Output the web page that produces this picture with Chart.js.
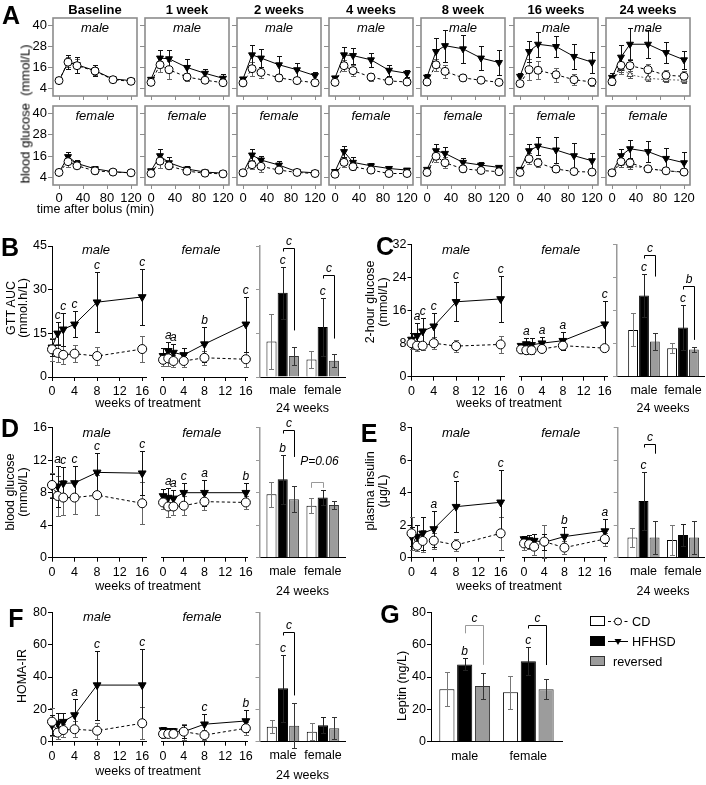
<!DOCTYPE html>
<html><head><meta charset="utf-8">
<script src="https://cdn.jsdelivr.net/npm/chart.js@4.4.1/dist/chart.umd.min.js"></script>
<style>
html,body{margin:0;padding:0;background:#fff;}
body{width:706px;height:785px;position:relative;overflow:hidden;font-family:"Liberation Sans",Arial,Helvetica,sans-serif;}
canvas{position:absolute;}
.t{position:absolute;white-space:pre;line-height:1;color:#000;}
</style></head><body>
<script>
// ================= DATA =================
// Panel A: glucose tolerance curves
const aTitles = ['Baseline','1 week','2 weeks','4 weeks','8 week','16 weeks','24 weeks'];
const aTimes = [0,15,30,60,90,120];
const aXTicks = [0,40,80,120];
const aYTicks = [4,16,28,40];
const aMaleCD = [
 [8.7,19.1,17.1,14.1,9.2,8.3],
 [7.7,17.6,14.8,10.7,8.9,7.5],
 [7.4,15.4,13.3,10.2,8.7,7.5],
 [7.7,17.1,14.3,10.7,8.5,7.9],
 [7.9,17.6,13.9,10.2,8.9,7.7],
 [7.0,14.8,14.5,12.0,9.2,7.9],
 [8.1,17.3,17.1,14.8,11.7,11.1]];
const aMaleCDsd = [
 [1,3,4,2.5,1,1],[1,4,5,2,1.5,1],[1,4,3,1.5,1.5,1.5],[1,3,3,2,1.5,1],
 [1,3.5,3.5,2,1.5,1],[1.5,6,5,4,3,2],[2,5,4,3.5,3,3]];
const aMaleHF = [
 [8.5,19.0,17.6,14.3,9.6,8.7],
 [9.4,21.4,21.0,16.1,12.8,10.0],
 [9.6,23.2,21.4,17.6,14.8,11.5],
 [10.2,23.2,22.8,20.4,14.5,12.8],
 [10.7,25.1,28.4,26.6,21.4,18.9],
 [11.1,25.1,29.2,27.9,22.3,19.1],
 [10.5,21.9,29.2,29.2,24.5,20.4]];
const aMaleHFsd = [
 [1,4,4.5,3,1.5,1],[1,4.5,5,5,2.5,2.5],[1,5.5,5,5,4,2],[1,4.5,4.5,4,3,2],
 [1.5,7.5,9,8,7,7],[2,6,7,6,7,6],[2.5,7,9,8,6,5]];
const aFemaleCD = [
 [7.0,13.0,10.7,7.9,7.2,6.8],
 [6.4,13.3,10.7,7.7,6.6,6.2],
 [6.8,11.3,10.4,8.3,7.0,6.4],
 [6.0,12.6,10.2,8.3,6.4,6.4],
 [7.0,16.0,12.4,9.0,8.1,7.4],
 [7.0,14.6,12.4,8.9,7.5,7.2],
 [6.8,13.0,12.4,9.0,7.9,7.2]];
const aFemaleCDsd = [
 [1,3,1.5,1.5,1,0.8],[1,4,2,1.5,1,1],[1,2.5,3,1.5,1,1],[1,2.5,2,1.5,1,1],
 [1,3,3,2,1.5,1],[1,3,2.5,1.5,1,1],[1,3,2.5,1.5,1,1]];
const aFemaleHF = [
 [7.0,15.8,12.0,9.0,7.4,6.8],
 [7.9,16.3,12.4,8.9,7.2,6.6],
 [6.8,16.7,13.9,11.1,7.4,6.8],
 [7.5,18.6,12.6,10.7,9.2,8.3],
 [8.7,19.1,17.6,12.6,11.1,9.8],
 [8.7,19.1,21.7,19.5,16.3,13.5],
 [6.8,16.3,20.2,18.6,14.8,12.4]];
const aFemaleHFsd = [
 [1,2.5,2,1.5,1,0.8],[1,3.5,3,1.5,1,1],[1,3.5,2.5,2,1,1],[1,3,3,1.5,1,1],
 [1,3.5,3.5,2.5,1.5,1],[1.5,4,5,7,7,4.5],[1,4,5,6,6,6]];
const aMaleRev24 = [7.5,15.8,12.0,10.0,9.2,8.9];
const aMaleRev24sd = [1.5,2.5,2,1.5,1.5,1.5];
const aFemaleRev24 = [6.4,12.0,10.7,9.2,7.9,7.0];
const aFemaleRev24sd = [1,2,2,1.5,1,1];

// Panels B-F: weeks of treatment
const weeks = [0,1,2,4,8,16];
const weekTicks = [0,4,8,12,16];
const sexLabels = ['male','female'];

// B: GTT AUC
const bYTicks = [0,15,30,45];
const bMaleCD = [9.5,8.3,7.6,8.0,7.2,9.6];   const bMaleCDsd = [4,3,3,3,3,4.5];
const bMaleHF = [10.2,15.0,16.4,18.1,25.7,27.5]; const bMaleHFsd = [3,3.9,5.6,4.5,10.3,9.7];
const bFemaleCD = [5.9,6.4,5.5,5.5,6.6,6.1]; const bFemaleCDsd = [2,2.5,2,2,2.5,2.5];
const bFemaleHF = [7.3,9.0,8.4,7.6,11.3,18.1]; const bFemaleHFsd = [2.5,3,3,2.5,6,9.5];
const bMaleSig = ['','c','c','c','c','c'];
const bFemaleSig = ['','a','a','','b','c'];
const bBarCD = [12.2,6.0];  const bBarCDsd = [9.5,3];
const bBarHF = [28.9,17.2]; const bBarHFsd = [9,10];
const bBarRev = [7.2,5.6];  const bBarRevsd = [3.2,2.3];
const bBarSig = ['c','c'];
const bBrText = ['c','c']; const bBrY = [44.3,35.0]; const bBrEnd = [16,13.2];

// C: 2-hour glucose
const cYTicks = [0,8,16,24,32];
const cMaleCD = [8.1,7.5,7.5,8.1,7.4,7.8];  const cMaleCDsd = [1.5,1.2,1,1.5,1.5,2];
const cMaleHF = [9.0,9.9,11.0,12.2,18.1,18.8]; const cMaleHFsd = [1.6,3.1,3.1,3.1,4.7,5.5];
const cFemaleCD = [6.6,6.4,6.4,6.7,7.5,6.9]; const cFemaleCDsd = [0.8,1,1,0.8,0.8,0.8];
const cFemaleHF = [7.5,7.9,7.7,8.1,8.7,12.7]; const cFemaleHFsd = [0.5,1.5,1.6,1.4,2.2,5.6];
const cMaleSig = ['','a','c','c','c','c'];
const cFemaleSig = ['','a','','a','a','c'];
const cBarCD = [11.3,6.85]; const cBarCDsd = [4,1.2];
const cBarHF = [19.6,11.9]; const cBarHFsd = [5.2,5.4];
const cBarRev = [8.5,6.6];  const cBarRevsd = [2.1,0.6];
const cBarSig = ['c','c'];
const cBrText = ['c','b']; const cBrY = [29.4,21.9]; const cBrEnd = [24.2,8.9];

// D: blood glucose
const dYTicks = [0,4,8,12,16];
const dMaleCD = [8.95,7.6,7.4,7.4,7.7,6.7]; const dMaleCDsd = [1.5,2.5,2.2,2,2.5,2.6];
const dMaleHF = [8.8,8.8,9.15,9.2,10.5,10.4]; const dMaleHFsd = [1.5,2.5,2,2.1,2.35,2.7];
const dFemaleCD = [6.8,6.3,6.3,6.4,6.9,6.8]; const dFemaleCDsd = [0.8,1.3,1,1.2,1,0.8];
const dFemaleHF = [7.6,7.4,7.3,8.0,8.0,8.0]; const dFemaleHFsd = [0.8,1.2,1,1.2,1.6,1.15];
const dMaleSig = ['','a','c','c','c','c'];
const dFemaleSig = ['','a','a','c','a','b'];
const dBarCD = [7.8,6.4];  const dBarCDsd = [1.5,0.9];
const dBarHF = [9.65,7.4]; const dBarHFsd = [3,0.9];
const dBarRev = [7.2,6.5]; const dBarRevsd = [1.6,0.5];
const dBarSig = ['b',''];
const dBrText = ['c','P=0.06']; const dBrY = [15.7,9.35]; const dBrEnd = [12.4,8.6]; const dBrTextY = [null,11.35];

// E: plasma insulin
const eYTicks = [0,2,4,6,8];
const eMaleCD = [1.5,0.74,1.03,1.05,0.78,1.5]; const eMaleCDsd = [1,0.3,0.7,0.5,0.35,1];
const eMaleHF = [1.3,1.3,1.5,1.77,3.14,3.41]; const eMaleHFsd = [0.6,0.7,1,1.1,1.55,2];
const eFemaleCD = [0.88,0.83,0.68,0.99,0.62,1.15]; const eFemaleCDsd = [0.4,0.3,0.5,1,0.4,0.4];
const eFemaleHF = [1.15,1.09,1.05,0.95,1.3,1.64]; const eFemaleHFsd = [0.2,0.3,0.4,0.5,0.6,0.75];
const eMaleSig = ['','','','a','c','c'];
const eFemaleSig = ['','','','','b','a'];
const eBarCD = [1.25,1.09]; const eBarCDsd = [0.6,0.95];
const eBarHF = [3.49,1.4];  const eBarHFsd = [1.8,0.7];
const eBarRev = [1.25,1.25]; const eBarRevsd = [1.0,1.0];
const eBarSig = ['c',''];
const eBrText = ['c']; const eBrY = [7.0]; const eBrEnd = [6.4];

// F: HOMA-IR
const fYTicks = [0,20,40,60,80];
const fMaleCD = [12.4,5.6,7.2,7.7,6.8,11.4]; const fMaleCDsd = [8.6,4,4,5,5,10];
const fMaleHF = [10.3,11.4,12.4,16.5,35,35]; const fMaleHFsd = [6,6.6,5.1,9.9,21.3,22.1];
const fFemaleCD = [4.8,4.8,4.8,6.2,4.1,8.3]; const fFemaleCDsd = [2.5,2,2,5,3,4];
const fFemaleHF = [7.2,6.6,6.6,6.2,10.8,12.8]; const fFemaleHFsd = [2,2,2,4,6.5,7];
const fMaleSig = ['','','','a','c','c'];
const fFemaleSig = ['','','','','c','b'];
const fBarCD = [9.3,6.2];  const fBarCDsd = [4,5.2];
const fBarHF = [33,10.1];  const fBarHFsd = [20.6,5];
const fBarRev = [9.9,8.3]; const fBarRevsd = [14,6.8];
const fBarSig = ['c',''];
const fBrText = ['c']; const fBrY = [68]; const fBrEnd = [28.6];

// G: Leptin
const gYTicks = [0,20,40,60,80];
const gCD = [32.4,30.5];  const gCDsd = [10.5,10.3];
const gHF = [47.8,49.7];  const gHFsd = [3.7,8.7];
const gRev = [34.4,32.4]; const gRevsd = [8,6.2];
const gSig = ['b','c'];
const gBrText = ['c','c']; const gBrY = [72.1,72.1]; const gBrEnd = [47.5,47.4]; const gBrLeft = [67,null];

// ================= RENDERING =================
Chart.defaults.font.family = "'Liberation Sans', Arial, Helvetica, sans-serif";
Chart.defaults.font.size = 12.5;
Chart.defaults.color = '#000';
const ANNO_FONT = "italic 12px 'Liberation Sans', Arial, sans-serif";

function addText(str, cx, cy, o) {
  o = o || {};
  const d = document.createElement('div');
  d.className = 't';
  d.textContent = str;
  d.style.left = cx + 'px'; d.style.top = cy + 'px';
  d.style.fontSize = (o.size || 12.5) + 'px';
  if (o.bold) d.style.fontWeight = 'bold';
  if (o.italic) d.style.fontStyle = 'italic';
  d.style.transform = (o.left ? 'translate(0,-50%)' : 'translate(-50%,-50%)') + (o.rot ? ' rotate(-90deg)' : '');
  document.body.appendChild(d);
}

function place(area, mm) {
  const left = Math.floor(area.l - mm.l), top = Math.floor(area.t - mm.t);
  const right = Math.ceil(area.r + mm.r), bottom = Math.ceil(area.b + mm.b);
  const c = document.createElement('canvas');
  c.width = right - left; c.height = bottom - top;
  c.style.left = left + 'px'; c.style.top = top + 'px';
  c.style.width = (right - left) + 'px'; c.style.height = (bottom - top) + 'px';
  document.body.appendChild(c);
  return {c, m: {l: area.l - left, t: area.t - top, r: right - area.r, b: bottom - area.b}};
}

function valOf(d) { return (d && typeof d === 'object') ? d.y : d; }

function drawErr(chart) {
  const ctx = chart.ctx, ys = chart.scales.y;
  chart.data.datasets.forEach((ds, di) => {
    if (!ds.sd) return;
    const meta = chart.getDatasetMeta(di);
    ctx.save();
    ctx.strokeStyle = ds.errColor || '#000';
    ctx.lineWidth = 1;
    const cap = ds.errCap || 2.5;
    meta.data.forEach((el, i) => {
      const v = valOf(ds.data[i]); const s = ds.sd[i];
      if (!s) return;
      const x = Math.round(el.x) + 0.5;
      const y1 = Math.round(ys.getPixelForValue(v + s)) + 0.5;
      const y2 = Math.round(ys.getPixelForValue(v - s)) + 0.5;
      ctx.beginPath();
      ctx.moveTo(x, y1); ctx.lineTo(x, y2);
      ctx.moveTo(x - cap, y1); ctx.lineTo(x + cap, y1);
      ctx.moveTo(x - cap, y2); ctx.lineTo(x + cap, y2);
      ctx.stroke();
    });
    ctx.restore();
  });
}

function drawAnno(chart, list) {
  const ctx = chart.ctx, ys = chart.scales.y;
  ctx.save();
  ctx.font = ANNO_FONT; ctx.textAlign = 'center'; ctx.textBaseline = 'alphabetic'; ctx.fillStyle = '#000';
  list.forEach(a => {
    if (a.kind === 'pt') {
      const ds = chart.data.datasets[a.ds];
      const el = chart.getDatasetMeta(a.ds).data[a.i];
      const v = valOf(ds.data[a.i]);
      const top = ys.getPixelForValue(v + (ds.sd ? ds.sd[a.i] : 0));
      ctx.fillText(a.text, el.x, top - 3);
    } else if (a.kind === 'br') {
      const x1 = Math.round(chart.getDatasetMeta(a.ds1).data[a.i].x) + 0.5;
      const x2 = Math.round(chart.getDatasetMeta(a.ds2).data[a.i].x) + 0.5;
      const y = Math.round(ys.getPixelForValue(a.y)) + 0.5;
      const yl = (a.lend != null) ? ys.getPixelForValue(a.lend) : y + 3;
      const yr = ys.getPixelForValue(a.rend);
      ctx.strokeStyle = a.color || '#000'; ctx.lineWidth = 1;
      ctx.beginPath(); ctx.moveTo(x1, yl); ctx.lineTo(x1, y); ctx.lineTo(x2, y); ctx.lineTo(x2, yr); ctx.stroke();
      const ty = (a.ty != null) ? ys.getPixelForValue(a.ty) : y - 4;
      ctx.fillText(a.text, (x1 + x2) / 2 + (a.tdx || 0), ty);
    }
  });
  ctx.restore();
}

const errPlugin = {
  id: 'errbars',
  beforeDatasetsDraw(chart, args, opts) {
    if (opts.frame) {
      const a = chart.chartArea, ctx = chart.ctx;
      ctx.save(); ctx.strokeStyle = '#8c8c8c'; ctx.lineWidth = 1.6;
      ctx.strokeRect(a.left, a.top, a.right - a.left, a.bottom - a.top);
      ctx.restore();
    }
    if (chart.config.type !== 'bar') drawErr(chart);
  },
  afterDatasetsDraw(chart, args, opts) {
    if (chart.config.type === 'bar') drawErr(chart);
    drawAnno(chart, opts.anno || []);
  }
};

function axisOpts(o) {
  return {
    type: 'linear', display: o.display !== false, min: o.min, max: o.max, offset: false,
    afterBuildTicks: s => { s.ticks = o.ticks.map(v => ({value: v})); },
    afterFit: o.fit,
    grid: {display: true, offset: false, drawOnChartArea: false, drawTicks: o.tickLen > 0, tickLength: o.tickLen || 0,
           color: o.col, tickColor: o.col, lineWidth: 1},
    border: {display: o.border !== false, color: o.bcol || o.col, width: o.bw || 1},
    ticks: {display: o.labels !== false, padding: o.pad, autoSkip: false, maxRotation: 0, minRotation: 0,
            font: {size: o.fs || 12.5}, color: '#000', callback: o.cb || (v => String(v))}
  };
}

function styleSeries(s, r) {
  const base = {data: s.xs.map((x, i) => ({x, y: s.ys[i]})), sd: s.sd, showLine: true, clip: false,
    borderWidth: 1, pointRadius: r, pointBorderWidth: 1, tension: 0};
  if (s.type === 'cd') return Object.assign(base, {borderColor: '#000', borderDash: [3, 2.5], pointStyle: 'circle',
    pointBackgroundColor: '#fff', pointBorderColor: '#000', errColor: '#666'});
  if (s.type === 'hf') return Object.assign(base, {borderColor: '#000', pointStyle: 'triangle', pointRotation: 180,
    pointBackgroundColor: '#000', pointBorderColor: '#000', errColor: '#111'});
  return Object.assign(base, {borderColor: '#666', borderDash: [2, 2], pointStyle: 'triangle', pointRotation: 0,
    pointBackgroundColor: '#fff', pointBorderColor: '#444', pointRadius: r - 0.5, errColor: '#555'});
}

function lineChart(o) {
  const {c, m} = place(o.area, o.m);
  const col = o.col || '#000';
  const fs = o.fs || 12.5;
  return new Chart(c, {
    type: 'scatter',
    data: {datasets: o.series.map(s => styleSeries(s, o.r || 4.5))},
    options: {
      responsive: false, maintainAspectRatio: false, animation: false, devicePixelRatio: 1, events: [],
      layout: {padding: {left: o.yShow ? 0 : m.l, right: m.r, top: m.t, bottom: 0}},
      plugins: {legend: {display: false}, tooltip: {enabled: false}, errbars: {anno: o.anno || [], frame: !!o.frame}},
      scales: {
        x: axisOpts({min: o.xmin, max: o.xmax, ticks: o.xt, fit: s => { s.height = m.b; }, col, tickLen: 4,
                     labels: o.xLabels, pad: (o.xPad != null ? o.xPad : 3), fs, border: !o.frame}),
        y: axisOpts({display: o.yShow, min: o.ymin, max: o.ymax, ticks: o.yt, fit: s => { s.width = m.l; }, col,
                     tickLen: o.yTick || 4, labels: o.yLabels, pad: 1, fs, border: !o.frame})
      }
    },
    plugins: [errPlugin]
  });
}

function barChart(o) {
  const {c, m} = place(o.area, o.m || {l: 6, t: 26, r: 6, b: 24});
  const per = o.fc - o.mc;
  const xmin = -(o.mc - o.area.l) / per, xmax = xmin + (o.area.r - o.area.l) / per;
  const ds = (vals, sd, bg, bc, ec) => ({data: vals.map((v, i) => ({x: i, y: v})), sd, backgroundColor: bg,
    borderColor: bc, borderWidth: 1, errColor: ec, errCap: 2.5});
  return new Chart(c, {
    type: 'bar',
    data: {datasets: [ds(o.cd, o.cdsd, '#ffffff', '#000', '#777'), ds(o.hf, o.hfsd, '#000000', '#000', '#222'),
                      ds(o.rev, o.revsd, '#9c9c9c', '#333', '#333')]},
    options: {
      responsive: false, maintainAspectRatio: false, animation: false, devicePixelRatio: 1, events: [],
      layout: {padding: {left: 0, right: m.r, top: m.t, bottom: 0}},
      datasets: {bar: {categoryPercentage: o.cp || 0.84, barPercentage: o.bp || 0.9}},
      plugins: {legend: {display: false}, tooltip: {enabled: false}, errbars: {anno: o.anno || []}},
      scales: {
        x: axisOpts({min: xmin, max: xmax, ticks: [0, 1], fit: s => { s.height = m.b; }, col: '#000', tickLen: 0,
                     pad: (o.xPad != null ? o.xPad : 6), cb: v => sexLabels[v]}),
        y: axisOpts({min: 0, max: o.ymax, ticks: o.yt, fit: s => { s.width = m.l; }, col: o.ycol || '#999',
                     tickLen: 4, labels: !!o.yLabels, pad: 1, bw: o.ybw || 1.5})
      }
    },
    plugins: [errPlugin]
  });
}

function sigAnno(sig, ds) {
  const out = [];
  sig.forEach((t, i) => { if (t) out.push({kind: 'pt', ds: ds == null ? 1 : ds, i, text: t}); });
  return out;
}

// ---------- Panel A ----------
const aLefts = [53, 145, 237, 329, 421, 514, 606];
aTitles.forEach((title, k) => {
  const l = aLefts[k], r = l + 84;
  const mSeries = [
    {type: 'cd', xs: aTimes, ys: aMaleCD[k], sd: aMaleCDsd[k]},
    {type: 'hf', xs: aTimes, ys: aMaleHF[k], sd: aMaleHFsd[k]}];
  const fSeries = [
    {type: 'cd', xs: aTimes, ys: aFemaleCD[k], sd: aFemaleCDsd[k]},
    {type: 'hf', xs: aTimes, ys: aFemaleHF[k], sd: aFemaleHFsd[k]}];
  if (k === 6) {
    mSeries.push({type: 'rev', xs: aTimes, ys: aMaleRev24, sd: aMaleRev24sd});
    fSeries.push({type: 'rev', xs: aTimes, ys: aFemaleRev24, sd: aFemaleRev24sd});
  }
  const common = {xmin: -10, xmax: 130, xt: aXTicks, ymin: 0, ymax: 44, yt: aYTicks, yShow: true,
    yLabels: k === 0, frame: true, col: '#8c8c8c', yTick: 5, fs: 13, r: 4};
  lineChart(Object.assign({}, common, {area: {l, r, t: 18, b: 96}, m: {l: k === 0 ? 30 : 7, t: 10, r: 8, b: 10},
    xLabels: false, series: mSeries}));
  lineChart(Object.assign({}, common, {area: {l, r, t: 106, b: 185}, m: {l: k === 0 ? 30 : 7, t: 10, r: 8, b: 22},
    xLabels: true, xPad: 2, series: fSeries}));
  addText(title, l + 42, 9, {bold: true, size: 13});
  addText('male', l + 42, 27, {italic: true, size: 13});
  addText('female', l + 42, 115, {italic: true, size: 13});
});
addText('A', 11, 15, {bold: true, size: 25});
addText('blood glucose  (mmol/L)', 25, 114, {rot: true, size: 13});
addText('time after bolus (min)', 95.5, 208.5, {size: 12.5});

// ---------- Panels B-F ----------
function trio(P) {
  lineChart({area: P.ma, m: {l: 30, t: 10, r: 8, b: 22}, xmin: 0, xmax: P.mxmax, xt: weekTicks,
    ymin: 0, ymax: P.ymax, yt: P.yt, yShow: true,
    series: [{type: 'cd', xs: weeks, ys: P.mCD, sd: P.mCDsd}, {type: 'hf', xs: weeks, ys: P.mHF, sd: P.mHFsd}],
    anno: sigAnno(P.mSig)});
  lineChart({area: P.fa, m: {l: 8, t: 10, r: 8, b: 22}, xmin: P.fxmin, xmax: P.fxmax, xt: weekTicks,
    ymin: 0, ymax: P.ymax, yt: P.yt, yShow: false,
    series: [{type: 'cd', xs: weeks, ys: P.fCD, sd: P.fCDsd}, {type: 'hf', xs: weeks, ys: P.fHF, sd: P.fHFsd}],
    anno: sigAnno(P.fSig)});
  barChart({area: P.ba, mc: P.mc, fc: P.fc, ymax: P.ymax, yt: P.yt, cp: 0.84, bp: 0.9,
    cd: P.bCD, cdsd: P.bCDsd, hf: P.bHF, hfsd: P.bHFsd, rev: P.bRev, revsd: P.bRevsd,
    anno: sigAnno(P.bSig).concat(P.br)});
  addText('male', P.tm[0], P.tm[1], {italic: true, size: 13});
  addText('female', P.tf[0], P.tf[1], {italic: true, size: 13});
  addText('weeks of treatment', P.wt[0], P.wt[1]);
  addText('24 weeks', P.w24[0], P.w24[1]);
  P.ylab.forEach(yl => addText(yl[0], yl[1], yl[2], {rot: true}));
  addText(P.letter[0], P.letter[1], P.letter[2], {bold: true, size: 25});
}

function brackets(texts, ys, ends, extra) {
  return texts.map((t, i) => Object.assign({kind: 'br', ds1: 1, ds2: 2, i, y: ys[i], rend: ends[i], text: t},
    (extra && extra[i]) || {}));
}

trio({ma: {l: 52, r: 146.7, t: 246, b: 377}, mxmax: 16.8, fa: {l: 153, r: 248, t: 246, b: 377}, fxmin: -0.4, fxmax: 16.4,
  ba: {l: 260, r: 345, t: 246, b: 377}, mc: 282.7, fc: 322.7, ymax: 45, yt: bYTicks,
  mCD: bMaleCD, mCDsd: bMaleCDsd, mHF: bMaleHF, mHFsd: bMaleHFsd, fCD: bFemaleCD, fCDsd: bFemaleCDsd, fHF: bFemaleHF, fHFsd: bFemaleHFsd,
  mSig: bMaleSig, fSig: bFemaleSig, bCD: bBarCD, bCDsd: bBarCDsd, bHF: bBarHF, bHFsd: bBarHFsd, bRev: bBarRev, bRevsd: bBarRevsd,
  bSig: bBarSig, br: brackets(bBrText, bBrY, bBrEnd),
  tm: [96, 249.3], tf: [201, 249.3], wt: [148, 403], w24: [302.5, 407.5],
  ylab: [['GTT AUC', 11, 308], ['(mmol.h/L)', 23, 308]], letter: ['B', 10, 247]});

trio({ma: {l: 411.5, r: 504, t: 244.3, b: 376.7}, mxmax: 16.6, fa: {l: 511, r: 607, t: 244.3, b: 376.7}, fxmin: -0.4, fxmax: 16.45,
  ba: {l: 617, r: 704, t: 244.3, b: 376.7}, mc: 644, fc: 683, ymax: 32, yt: cYTicks,
  mCD: cMaleCD, mCDsd: cMaleCDsd, mHF: cMaleHF, mHFsd: cMaleHFsd, fCD: cFemaleCD, fCDsd: cFemaleCDsd, fHF: cFemaleHF, fHFsd: cFemaleHFsd,
  mSig: cMaleSig, fSig: cFemaleSig, bCD: cBarCD, bCDsd: cBarCDsd, bHF: cBarHF, bHFsd: cBarHFsd, bRev: cBarRev, bRevsd: cBarRevsd,
  bSig: cBarSig, br: brackets(cBrText, cBrY, cBrEnd),
  tm: [456, 249.3], tf: [560.7, 249.3], wt: [509, 403], w24: [663, 407.5],
  ylab: [['2-hour glucose', 370, 302], ['(mmol/L)', 383, 302]], letter: ['C', 385, 246]});

trio({ma: {l: 52, r: 146.7, t: 427.7, b: 557.7}, mxmax: 16.8, fa: {l: 153, r: 248, t: 427.7, b: 557.7}, fxmin: -0.4, fxmax: 16.4,
  ba: {l: 260, r: 345, t: 427.7, b: 557.7}, mc: 282.7, fc: 322.7, ymax: 16, yt: dYTicks,
  mCD: dMaleCD, mCDsd: dMaleCDsd, mHF: dMaleHF, mHFsd: dMaleHFsd, fCD: dFemaleCD, fCDsd: dFemaleCDsd, fHF: dFemaleHF, fHFsd: dFemaleHFsd,
  mSig: dMaleSig, fSig: dFemaleSig, bCD: dBarCD, bCDsd: dBarCDsd, bHF: dBarHF, bHFsd: dBarHFsd, bRev: dBarRev, bRevsd: dBarRevsd,
  bSig: dBarSig, br: brackets(dBrText, dBrY, dBrEnd, [null, {ds1: 0, ds2: 1, lend: dBrEnd[1], ty: dBrTextY[1], color: '#999', tdx: 2}]),
  tm: [96.7, 431.7], tf: [201.7, 431.7], wt: [148, 586], w24: [302.5, 591],
  ylab: [['blood glucose', 10, 492], ['(mmol/L)', 23, 492]], letter: ['D', 10, 427.5]});

trio({ma: {l: 411.5, r: 504, t: 427.7, b: 557.7}, mxmax: 16.6, fa: {l: 513.5, r: 607, t: 427.7, b: 557.7}, fxmin: -0.4, fxmax: 16.4,
  ba: {l: 617.7, r: 704, t: 427.7, b: 557.7}, mc: 643.5, fc: 683, ymax: 8, yt: eYTicks,
  mCD: eMaleCD, mCDsd: eMaleCDsd, mHF: eMaleHF, mHFsd: eMaleHFsd, fCD: eFemaleCD, fCDsd: eFemaleCDsd, fHF: eFemaleHF, fHFsd: eFemaleHFsd,
  mSig: eMaleSig, fSig: eFemaleSig, bCD: eBarCD, bCDsd: eBarCDsd, bHF: eBarHF, bHFsd: eBarHFsd, bRev: eBarRev, bRevsd: eBarRevsd,
  bSig: eBarSig, br: brackets(eBrText, eBrY, eBrEnd),
  tm: [456, 431.7], tf: [560.7, 431.7], wt: [509, 586], w24: [663, 591],
  ylab: [['plasma insulin', 370, 491], ['(μg/L)', 383, 491]], letter: ['E', 369, 432.5]});

trio({ma: {l: 52, r: 146.7, t: 612.3, b: 741.7}, mxmax: 16.8, fa: {l: 153, r: 248, t: 612.3, b: 741.7}, fxmin: -0.4, fxmax: 16.4,
  ba: {l: 259.5, r: 345, t: 612.3, b: 741.7}, mc: 283, fc: 323, ymax: 80, yt: fYTicks,
  mCD: fMaleCD, mCDsd: fMaleCDsd, mHF: fMaleHF, mHFsd: fMaleHFsd, fCD: fFemaleCD, fCDsd: fFemaleCDsd, fHF: fFemaleHF, fHFsd: fFemaleHFsd,
  mSig: fMaleSig, fSig: fFemaleSig, bCD: fBarCD, bCDsd: fBarCDsd, bHF: fBarHF, bHFsd: fBarHFsd, bRev: fBarRev, bRevsd: fBarRevsd,
  bSig: fBarSig, br: brackets(fBrText, fBrY, fBrEnd),
  tm: [97, 616], tf: [202, 616], wt: [148, 770.5], w24: [302.5, 774.7],
  ylab: [['HOMA-IR', 22, 676]], letter: ['F', 16, 617.5]});

// ---------- Panel G ----------
barChart({area: {l: 431, r: 562.7, t: 612.3, b: 741.7}, m: {l: 30, t: 12, r: 6, b: 24}, mc: 464.7, fc: 528.3,
  cp: 0.84, bp: 0.85, ymax: 80, yt: gYTicks, ycol: '#000', ybw: 1, yLabels: true, xPad: 7,
  cd: gCD, cdsd: gCDsd, hf: gHF, hfsd: gHFsd, rev: gRev, revsd: gRevsd,
  anno: sigAnno(gSig).concat(brackets(gBrText, gBrY, gBrEnd, [{lend: gBrLeft[0], color: '#999'}, {}]))});
addText('Leptin (ng/L)', 402, 686, {rot: true});
addText('G', 390, 613.5, {bold: true, size: 25});

// legend
(function () {
  const svgNS = 'http://www.w3.org/2000/svg';
  const svg = document.createElementNS(svgNS, 'svg');
  svg.setAttribute('width', '44'); svg.setAttribute('height', '56');
  svg.style.position = 'absolute'; svg.style.left = '588px'; svg.style.top = '612px';
  svg.innerHTML =
    '<rect x="2.5" y="4.5" width="14" height="9" fill="#fff" stroke="#000"/>' +
    '<line x1="20" y1="9.5" x2="40" y2="9.5" stroke="#000" stroke-dasharray="3,2.5"/>' +
    '<circle cx="30" cy="9.5" r="3.5" fill="#fff" stroke="#000"/>' +
    '<rect x="2.5" y="24.5" width="14" height="9" fill="#000" stroke="#000"/>' +
    '<line x1="20" y1="29.5" x2="40" y2="29.5" stroke="#000"/>' +
    '<polygon points="26.5,27 33.5,27 30,33" fill="#000"/>' +
    '<rect x="2.5" y="44.5" width="14" height="9" fill="#9c9c9c" stroke="#333"/>';
  document.body.appendChild(svg);
  addText('CD', 632, 621.5, {left: true, size: 12.7});
  addText('HFHSD', 632, 641.5, {left: true, size: 12.7});
  addText('reversed', 613, 661.5, {left: true, size: 12.7});
})();
</script>
</body></html>
